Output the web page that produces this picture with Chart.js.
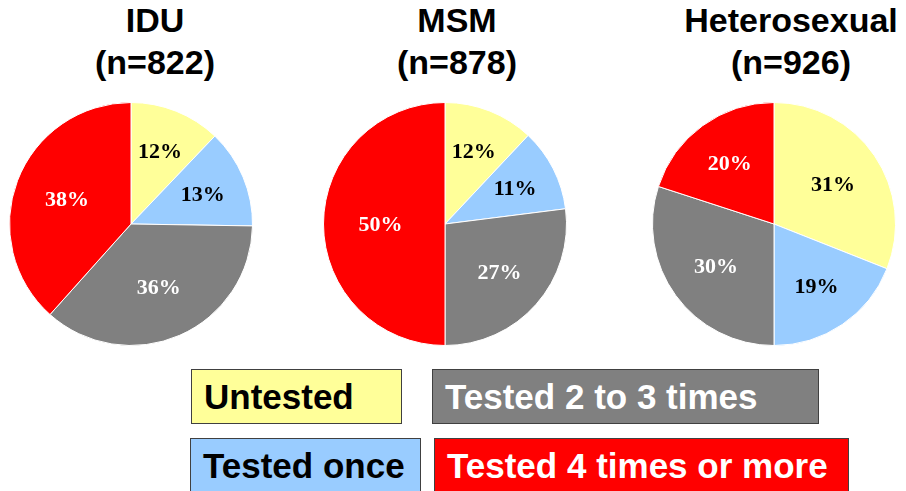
<!DOCTYPE html>
<html>
<head>
<meta charset="utf-8">
<script src="https://cdn.jsdelivr.net/npm/chart.js@4"></script>
<style>
  body { margin: 0; width: 906px; height: 491px; background: #fff; position: relative; overflow: hidden;
         font-family: "Liberation Sans", Arial, sans-serif; }
  .title { position: absolute; top: -1px; width: 260px; text-align: center; font-weight: bold;
           font-size: 34px; line-height: 42px; color: #000; }
  .pie { position: absolute; top: 102px; width: 244px; height: 244px; }
  .key { position: absolute; box-sizing: border-box; border: 1px solid #404040; font-weight: bold;
         font-size: 35px; line-height: 53px; padding-left: 12px; white-space: nowrap; }
</style>
</head>
<body>
<div class="title" style="left:25px">IDU<br>(n=822)</div>
<div class="title" style="left:327px">MSM<br>(n=878)</div>
<div class="title" style="left:661px">Heterosexual<br>(n=926)</div>

<div class="pie" style="left:9px"><canvas id="pie0"></canvas></div>
<div class="pie" style="left:323px"><canvas id="pie1"></canvas></div>
<div class="pie" style="left:652px"><canvas id="pie2"></canvas></div>

<div class="key" style="left:191px;top:369px;width:211px;height:55px;background:#FFFF99;color:#000">Untested</div>
<div class="key" style="left:432px;top:369px;width:387px;height:55px;background:#808080;color:#fff">Tested 2 to 3 times</div>
<div class="key" style="left:190px;top:438px;width:231px;height:55px;background:#99CCFF;color:#000">Tested once</div>
<div class="key" style="left:434px;top:438px;width:415px;height:55px;background:#FF0000;color:#fff">Tested 4 times or more</div>

<script>
// categories in clockwise order from 12 o'clock
const categories = ['Untested', 'Tested once', 'Tested 2 to 3 times', 'Tested 4 times or more'];
const idu = [12, 13, 36, 38];
const msm = [12, 11, 27, 50];
const hetero = [31, 19, 30, 20];

const sliceColors = ['#FFFF99', '#99CCFF', '#808080', '#FF0000'];
const labelColors = ['#000', '#000', '#fff', '#fff'];

// draw the percentages inside the slices, small slices a bit further out
const sliceLabels = {
    id: 'sliceLabels',
    afterDatasetsDraw(chart) {
        const ctx = chart.ctx;
        const meta = chart.getDatasetMeta(0);
        const values = chart.data.datasets[0].data;
        ctx.save();
        ctx.font = 'bold 22px "Liberation Serif", "Times New Roman", serif';
        ctx.textAlign = 'center';
        ctx.textBaseline = 'middle';
        meta.data.forEach((arc, i) => {
            const p = arc.getProps(['x', 'y', 'startAngle', 'endAngle', 'outerRadius'], true);
            const mid = (p.startAngle + p.endAngle) / 2;
            const frac = (p.endAngle - p.startAngle) / (2 * Math.PI);
            const r = p.outerRadius * (0.68 - 0.3 * frac);
            ctx.fillStyle = labelColors[i];
            ctx.fillText(values[i] + '%', p.x + Math.cos(mid) * r, p.y + Math.sin(mid) * r + 1);
        });
        ctx.restore();
    }
};

function renderPie(id, values) {
    new Chart(document.getElementById(id), {
        type: 'pie',
        data: {
            labels: categories,
            datasets: [{
                data: values,
                backgroundColor: sliceColors,
                borderColor: '#fff',
                borderWidth: 1,
            }],
        },
        options: {
            responsive: true,
            maintainAspectRatio: false,
            animation: false,
            layout: { padding: 0 },
            plugins: { legend: { display: false }, tooltip: { enabled: false } },
        },
        plugins: [sliceLabels],
    });
}

renderPie('pie0', idu);
renderPie('pie1', msm);
renderPie('pie2', hetero);
</script>
</body>
</html>
